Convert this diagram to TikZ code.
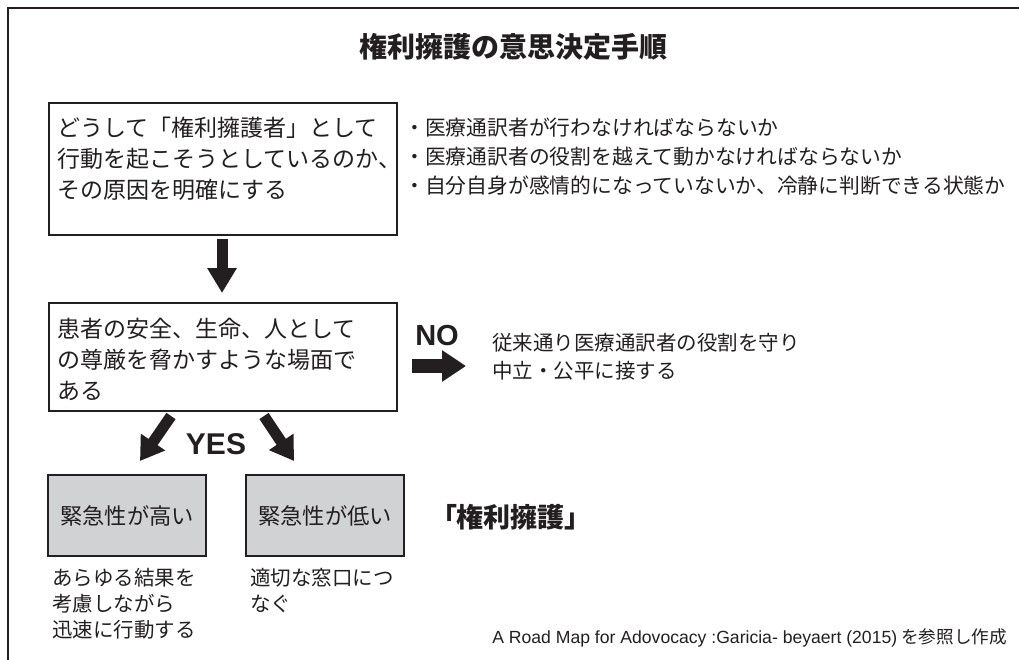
\documentclass[tikz,border=0pt]{standalone}
\usepackage{fontspec}
\setmainfont{Noto Sans CJK JP}
\newfontfamily\latinbold{Liberation Sans}
\newfontfamily\latinplain{Liberation Sans}
\usetikzlibrary{arrows.meta}
\definecolor{ink}{RGB}{35,31,32}
\definecolor{boxgray}{RGB}{209,210,212}
\tikzset{
  frameline/.style={draw=ink, line width=2pt},
  plainbox/.style={draw=ink, line width=2pt, fill=white, inner sep=0pt, anchor=north west},
  graybox/.style={draw=ink, line width=2pt, fill=boxgray, inner sep=0pt, anchor=north west,
    minimum width=158pt, minimum height=81pt, text=ink, font=\fontsize{22.3}{22.3}\selectfont},
  boxtext/.style={anchor=west, align=left, inner sep=0pt, text=ink, font=\fontsize{23}{31}\selectfont},
  sidetext/.style={anchor=west, align=left, inner sep=0pt, text=ink, font=\fontsize{20.8}{29}\selectfont},
  undertext/.style={anchor=west, align=left, inner sep=0pt, text=ink, font=\fontsize{20.5}{26}\selectfont},
  bigword/.style={inner sep=0pt, text=ink, font=\latinbold\bfseries\fontsize{30}{30}\selectfont},
  fatarrow/.style={draw=ink, fill=ink, line width=11pt, -{Triangle[length=25pt,width=28pt]}},
}
\begin{document}
\begin{tikzpicture}[x=1pt,y=-1pt]
\useasboundingbox (0,0) rectangle (1019,660);
\fill[white] (0,0) rectangle (1019,660);
\draw[frameline] (8,661) -- (8,8) -- (1020,8);

\node[inner sep=0pt, text=ink, font=\bfseries\fontsize{28}{28}\selectfont] (title) at (513,47) {権利擁護の意思決定手順};

% step 1
\node[plainbox, minimum width=348pt, minimum height=132pt] (b1) at (48,102) {};
\node[boxtext] (t1) at (57,159) {どうして「権利擁護者」として\\行動を起こそうとしているのか、\\その原因を明確にする};

\node[sidetext] (q) at (404,157) {・医療通訳者が行わなければならないか\\・医療通訳者の役割を越えて動かなければならないか\\・自分自身が感情的になっていないか、冷静に判断できる状態か};

% arrow down
\coordinate (a1s) at (222,239);
\coordinate (a1e) at (222,293);
\draw[fatarrow] (a1s) -- (a1e);

% step 2
\node[plainbox, minimum width=348pt, minimum height=108pt] (b2) at (48,302) {};
\node[boxtext] (t2) at (57,359) {患者の安全、生命、人として\\の尊厳を脅かすような場面で\\ある};

% NO branch
\node[bigword, font=\latinbold\bfseries\fontsize{29}{29}\selectfont] (no) at (437,336) {NO};
\coordinate (a2s) at (412,366);
\coordinate (a2e) at (466,366);
\draw[fatarrow, line width=14pt, -{Triangle[length=24pt,width=30pt]}] (a2s) -- (a2e);
\node[sidetext, font=\fontsize{20.5}{28}\selectfont] (nt) at (492,357) {従来通り医療通訳者の役割を守り\\中立・公平に接する};

% YES branch
\node[bigword] (yes) at (216,444) {YES};
\coordinate (a3s) at (171,416);
\coordinate (a3e) at (140,461);
\draw[fatarrow, line width=11pt, -{Triangle[length=23pt,width=28pt]}] (a3s) -- (a3e);
\coordinate (a4s) at (264,416);
\coordinate (a4e) at (294,461);
\draw[fatarrow, line width=11pt, -{Triangle[length=23pt,width=28pt]}] (a4s) -- (a4e);

% urgency boxes
\node[graybox] (hi) at (47,474) {緊急性が高い};
\node[graybox] (lo) at (245,474) {緊急性が低い};
\node[undertext] (hit) at (52,604) {あらゆる結果を\\考慮しながら\\迅速に行動する};
\node[undertext] (lot) at (250,591) {適切な窓口につ\\なぐ};

\node[anchor=west, inner sep=0pt, text=ink, font=\bfseries\fontsize{27}{27}\selectfont\addfontfeatures{RawFeature=+palt}] (adv) at (443,517) {「権利擁護」};

\node[anchor=east, inner sep=0pt, text=ink, font=\fontsize{17.6}{17.6}\selectfont] (cite) at (1007,638) {{\latinplain A Road Map for Adovocacy :Garicia- beyaert (2015)} を参照し作成};
\end{tikzpicture}
\end{document}
